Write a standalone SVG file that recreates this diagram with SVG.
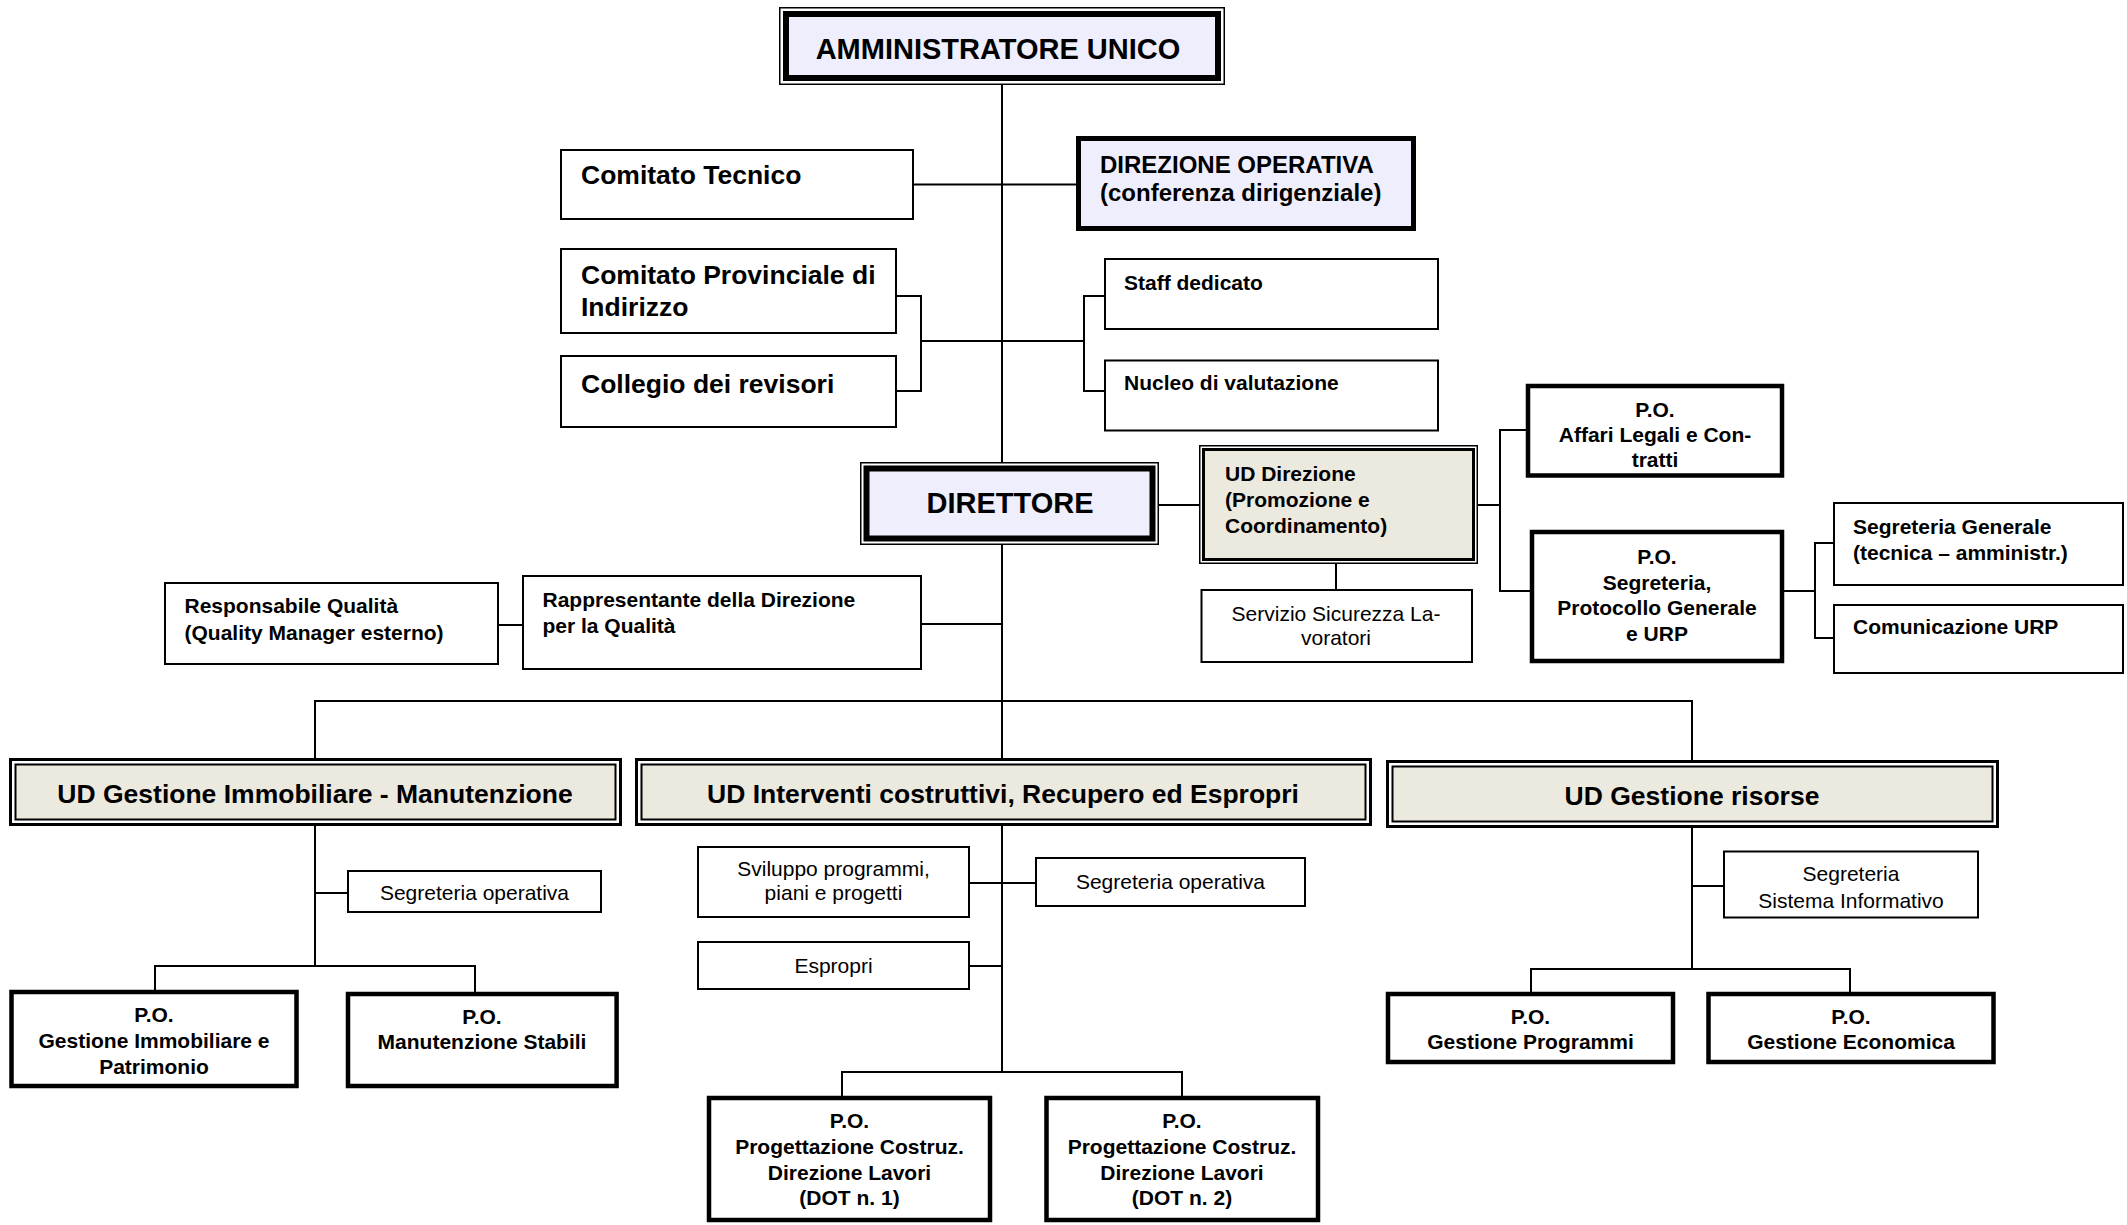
<svg xmlns="http://www.w3.org/2000/svg" width="2127" height="1225" viewBox="0 0 2127 1225">
<style>
text{font-family:"Liberation Sans",Arial,sans-serif;fill:#000}
.b{font-weight:bold}
.s21{font-size:21px}
.s24{font-size:24px}
.s26{font-size:26.5px}
.s29{font-size:29px}
.m{text-anchor:middle}
.thin{fill:#fff;stroke:#000;stroke-width:2}
.thick{fill:#fff;stroke:#000;stroke-width:4.5}
.o15{fill:#fff;stroke:#000;stroke-width:1.5}
.o3{fill:#fff;stroke:#000;stroke-width:3}
.lav6{fill:#EEEEFC;stroke:#000;stroke-width:6}
.lav5{fill:#EEEEFC;stroke:#000;stroke-width:5}
.bei3{fill:#ECE9DF;stroke:#000;stroke-width:3}
.bei2{fill:#ECE9DF;stroke:#000;stroke-width:2}
.c{fill:none;stroke:#000;stroke-width:2}
</style>
<rect width="2127" height="1225" fill="#fff"/>
<g id="connectors">
<path class="c" d="M1002,85 V1072"/>
<path class="c" d="M914,184.5 H1076"/>
<path class="c" d="M897,296 H921 V391 H897 M921,341 H1084 M1104,296 H1084 V391 H1104"/>
<path class="c" d="M1159,505 H1200"/>
<path class="c" d="M1477,505 H1500 M1526,430 H1500 V591 H1530"/>
<path class="c" d="M1784,591 H1815 M1833,543 H1815 V638 H1833"/>
<path class="c" d="M1336,563 V589"/>
<path class="c" d="M499,625 H522 M922,624 H1002"/>
<path class="c" d="M315,760 V701 H1692 V761"/>
<path class="c" d="M315,825 V966 M315,893 H347 M155,990 V966 H475 V992"/>
<path class="c" d="M970,883 H1035 M970,966 H1002 M842,1096 V1072 H1182 V1096"/>
<path class="c" d="M1692,826 V969 M1692,886 H1723 M1531,992 V969 H1850 V992"/>
</g>
<g id="amministratore">
<rect class="o15" x="779.75" y="7.75" width="444.5" height="76.5"/>
<rect class="lav6" x="786" y="14" width="432" height="64"/>
<text class="b s29 m" x="998" y="59">AMMINISTRATORE UNICO</text>
</g>
<g id="comitato-tecnico">
<rect class="thin" x="561" y="150" width="352" height="69"/>
<text class="b s26" x="581" y="184">Comitato Tecnico</text>
</g>
<g id="direzione-operativa">
<rect class="lav5" x="1078.5" y="138.5" width="335" height="90"/>
<text class="b s24" x="1100" y="172.5">DIREZIONE OPERATIVA</text>
<text class="b s24" x="1100" y="201">(conferenza dirigenziale)</text>
</g>
<g id="comitato-provinciale">
<rect class="thin" x="561" y="249" width="335" height="84"/>
<text class="b s26" x="581" y="283.5">Comitato Provinciale di</text>
<text class="b s26" x="581" y="316">Indirizzo</text>
</g>
<g id="collegio">
<rect class="thin" x="561" y="356" width="335" height="71"/>
<text class="b s26" x="581" y="393">Collegio dei revisori</text>
</g>
<g id="staff">
<rect class="thin" x="1105" y="259" width="333" height="70"/>
<text class="b s21" x="1124" y="289.5">Staff dedicato</text>
</g>
<g id="nucleo">
<rect class="thin" x="1105" y="360.5" width="333" height="70"/>
<text class="b s21" x="1124" y="390">Nucleo di valutazione</text>
</g>
<g id="direttore">
<rect class="o15" x="860.75" y="462.75" width="297.5" height="81.5"/>
<rect class="lav6" x="866.5" y="468.5" width="286" height="70"/>
<text class="b s29 m" x="1010" y="512.5">DIRETTORE</text>
</g>
<g id="ud-direzione">
<rect class="o15" x="1199.75" y="445.75" width="277.5" height="117.5"/>
<rect class="bei3" x="1203.5" y="449.5" width="270" height="110"/>
<text class="b s21" x="1225" y="481">UD Direzione</text>
<text class="b s21" x="1225" y="506.7">(Promozione e</text>
<text class="b s21" x="1225" y="532.5">Coordinamento)</text>
</g>
<g id="servizio-sicurezza">
<rect class="thin" x="1201.5" y="590" width="270.5" height="72"/>
<text class="s21 m" x="1336" y="620.6">Servizio Sicurezza La-</text>
<text class="s21 m" x="1336" y="645">voratori</text>
</g>
<g id="po-affari-legali">
<rect class="thick" x="1528" y="386" width="254" height="89.5"/>
<text class="b s21 m" x="1655" y="417">P.O.</text>
<text class="b s21 m" x="1655" y="441.5">Affari Legali e Con-</text>
<text class="b s21 m" x="1655" y="467.4">tratti</text>
</g>
<g id="po-segreteria">
<rect class="thick" x="1532" y="532" width="250" height="129"/>
<text class="b s21 m" x="1657" y="563.7">P.O.</text>
<text class="b s21 m" x="1657" y="589.5">Segreteria,</text>
<text class="b s21 m" x="1657" y="615.2">Protocollo Generale</text>
<text class="b s21 m" x="1657" y="641">e URP</text>
</g>
<g id="segreteria-generale">
<rect class="thin" x="1834" y="503" width="289" height="82"/>
<text class="b s21" x="1853" y="533.8">Segreteria Generale</text>
<text class="b s21" x="1853" y="559.6">(tecnica – amministr.)</text>
</g>
<g id="comunicazione-urp">
<rect class="thin" x="1834" y="605" width="289" height="68"/>
<text class="b s21" x="1853" y="634.2">Comunicazione URP</text>
</g>
<g id="responsabile-qualita">
<rect class="thin" x="165" y="583" width="333" height="81"/>
<text class="b s21" x="184.5" y="612.5">Responsabile Qualità</text>
<text class="b s21" x="184.5" y="639.5">(Quality Manager esterno)</text>
</g>
<g id="rappresentante-qualita">
<rect class="thin" x="523" y="576" width="398" height="93"/>
<text class="b s21" x="542.5" y="607">Rappresentante della Direzione</text>
<text class="b s21" x="542.5" y="633">per la Qualità</text>
</g>
<g id="ud-gestione-immobiliare">
<rect class="o3" x="10.5" y="759.5" width="610" height="65"/>
<rect class="bei2" x="15.5" y="764.5" width="600" height="55"/>
<text class="b s26 m" x="315" y="803">UD Gestione Immobiliare - Manutenzione</text>
</g>
<g id="ud-interventi">
<rect class="o3" x="636.5" y="759.5" width="734" height="65"/>
<rect class="bei2" x="641.5" y="764.5" width="724" height="55"/>
<text class="b s26 m" x="1003" y="803">UD Interventi costruttivi, Recupero ed Espropri</text>
</g>
<g id="ud-gestione-risorse">
<rect class="o3" x="1387.5" y="761.5" width="610" height="65"/>
<rect class="bei2" x="1392.5" y="766.5" width="600" height="55"/>
<text class="b s26 m" x="1692" y="804.5">UD Gestione risorse</text>
</g>
<g id="segreteria-operativa-1">
<rect class="thin" x="348" y="871" width="253" height="41"/>
<text class="s21 m" x="474.5" y="900">Segreteria operativa</text>
</g>
<g id="po-gestione-immobiliare">
<rect class="thick" x="11.5" y="992" width="285" height="94"/>
<text class="b s21 m" x="154" y="1022">P.O.</text>
<text class="b s21 m" x="154" y="1048">Gestione Immobiliare e</text>
<text class="b s21 m" x="154" y="1073.7">Patrimonio</text>
</g>
<g id="po-manutenzione">
<rect class="thick" x="348" y="994" width="268.6" height="92"/>
<text class="b s21 m" x="482" y="1023.5">P.O.</text>
<text class="b s21 m" x="482" y="1049.3">Manutenzione Stabili</text>
</g>
<g id="sviluppo">
<rect class="thin" x="698" y="847" width="271" height="70"/>
<text class="s21 m" x="833.5" y="875.7">Sviluppo programmi,</text>
<text class="s21 m" x="833.5" y="900">piani e progetti</text>
</g>
<g id="segreteria-operativa-2">
<rect class="thin" x="1036" y="858" width="269" height="48"/>
<text class="s21 m" x="1170.5" y="889.2">Segreteria operativa</text>
</g>
<g id="espropri">
<rect class="thin" x="698" y="942" width="271" height="47"/>
<text class="s21 m" x="833.5" y="973.3">Espropri</text>
</g>
<g id="po-dot-1">
<rect class="thick" x="709" y="1098" width="281" height="122"/>
<text class="b s21 m" x="849.5" y="1128">P.O.</text>
<text class="b s21 m" x="849.5" y="1153.7">Progettazione Costruz.</text>
<text class="b s21 m" x="849.5" y="1179.5">Direzione Lavori</text>
<text class="b s21 m" x="849.5" y="1205.3">(DOT n. 1)</text>
</g>
<g id="po-dot-2">
<rect class="thick" x="1046.5" y="1098" width="271.5" height="122"/>
<text class="b s21 m" x="1182" y="1128">P.O.</text>
<text class="b s21 m" x="1182" y="1153.7">Progettazione Costruz.</text>
<text class="b s21 m" x="1182" y="1179.5">Direzione Lavori</text>
<text class="b s21 m" x="1182" y="1205.3">(DOT n. 2)</text>
</g>
<g id="segreteria-sistema-informativo">
<rect class="thin" x="1724" y="851.5" width="254" height="66"/>
<text class="s21 m" x="1851" y="881">Segreteria</text>
<text class="s21 m" x="1851" y="908">Sistema Informativo</text>
</g>
<g id="po-gestione-programmi">
<rect class="thick" x="1388" y="994" width="285" height="68"/>
<text class="b s21 m" x="1530.5" y="1023.5">P.O.</text>
<text class="b s21 m" x="1530.5" y="1049.3">Gestione Programmi</text>
</g>
<g id="po-gestione-economica">
<rect class="thick" x="1708.5" y="994" width="285" height="68"/>
<text class="b s21 m" x="1851" y="1023.5">P.O.</text>
<text class="b s21 m" x="1851" y="1049.3">Gestione Economica</text>
</g>
</svg>
